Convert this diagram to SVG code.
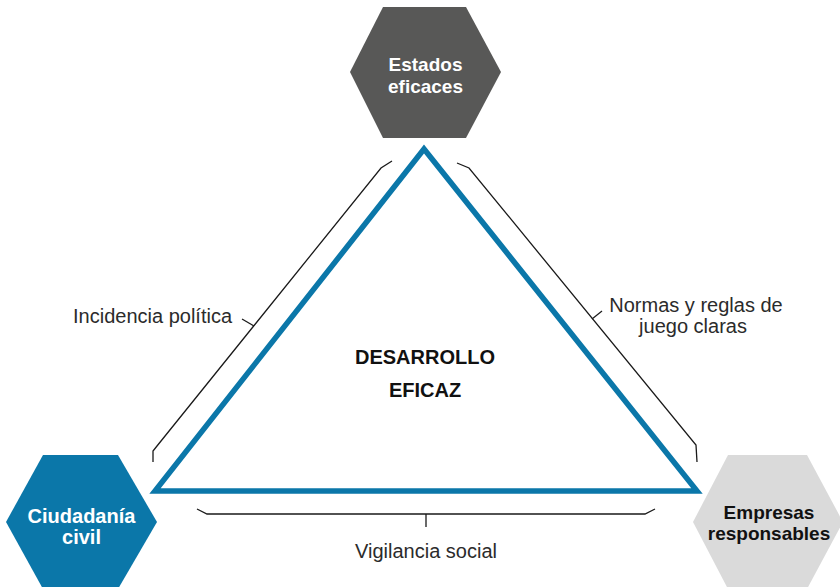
<svg xmlns="http://www.w3.org/2000/svg" width="840" height="587" viewBox="0 0 840 587">
<style>
.lbl{font-family:"Liberation Sans",Arial,sans-serif;font-size:20px;fill:#2b2b2b}
.hx{font-family:"Liberation Sans",Arial,sans-serif;font-size:19px;font-weight:bold;text-anchor:middle}
.br{fill:none;stroke:#1a1a1a;stroke-width:1.3}
</style>
<rect width="840" height="587" fill="#ffffff"/>
<g id="connectors">
<path class="br" d="M153,462 L153,451 L157,446 L381,168 L392,161"/>
<path class="br" d="M254,326 L242,319"/>
<path class="br" d="M457,163 L469,168 L696,445 L697,462"/>
<path class="br" d="M592,319 L602,311"/>
<path class="br" d="M197,509 L207,514 L645,514 L655,509"/>
<path class="br" d="M426,514 L426,527"/>
</g>
<g id="triangle">
<polygon points="424,149 155,491 697,491" fill="none" stroke="#0b77a9" stroke-width="5.5" stroke-linejoin="miter"/>
<text class="hx" x="425" y="364" font-size="20" style="font-size:20px" fill="#111">DESARROLLO</text>
<text class="hx" x="425" y="397" style="font-size:20px" fill="#111">EFICAZ</text>
</g>
<g id="estados">
<polygon points="350,72 383,7 466,7 501,72 466,138 383,138" fill="#585857"/>
<text class="hx" x="425.5" y="71" fill="#ffffff">Estados</text>
<text class="hx" x="425.5" y="93" fill="#ffffff">eficaces</text>
</g>
<g id="ciudadania">
<polygon points="6,522 43,455 118,455 157,522 118,589 43,589" fill="#0b77a9"/>
<text class="hx" x="81.5" y="523" fill="#ffffff" style="font-size:20px">Ciudadanía</text>
<text class="hx" x="81.5" y="544" fill="#ffffff" style="font-size:20px">civil</text>
</g>
<g id="empresas">
<polygon points="693,522 728,455 807,455 843,522 807,589 728,589" fill="#dadada"/>
<text class="hx" x="769" y="519" fill="#111">Empresas</text>
<text class="hx" x="769" y="540" fill="#111">responsables</text>
</g>
<g id="labels">
<text class="lbl" x="232" y="323" text-anchor="end">Incidencia política</text>
<text class="lbl" x="696" y="312" text-anchor="middle">Normas y reglas de</text>
<text class="lbl" x="693" y="333" text-anchor="middle">juego claras</text>
<text class="lbl" x="426" y="558" text-anchor="middle">Vigilancia social</text>
</g>
</svg>
